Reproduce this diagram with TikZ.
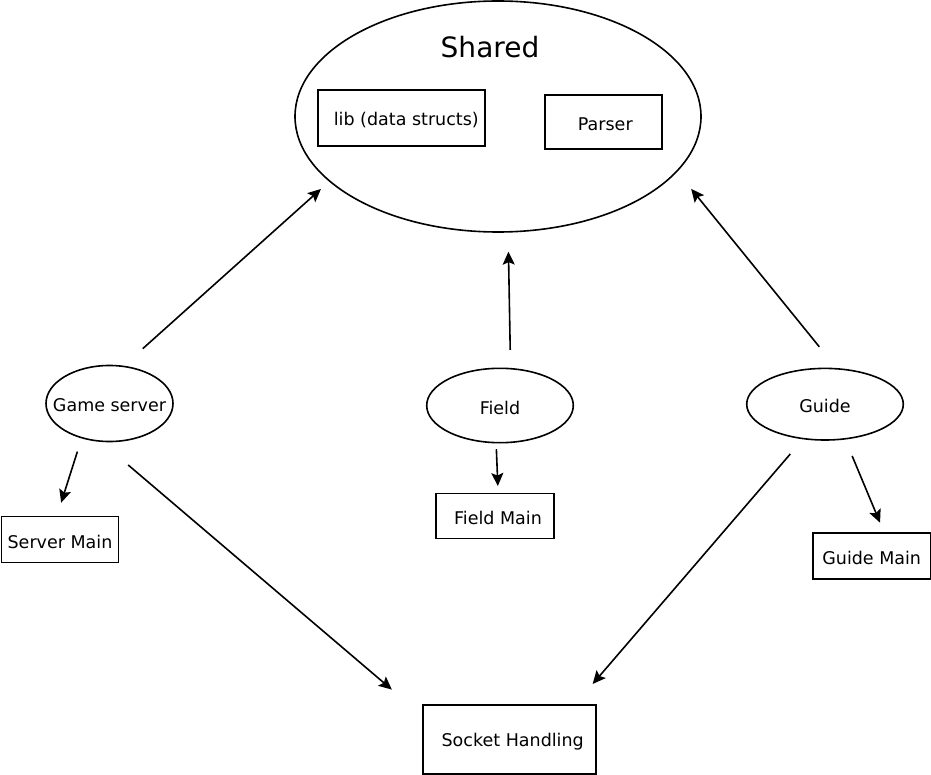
\documentclass[tikz,border=0pt]{standalone}
\usepackage{fontspec}
\setmainfont{DejaVu Sans}
\usetikzlibrary{shapes.geometric,arrows.meta}

\tikzset{
  blob/.style={draw, ellipse, line width=1.6pt, inner sep=0pt, outer sep=0pt},
  box/.style={draw, rectangle, line width=1.7pt, inner sep=0pt, outer sep=0pt},
  lbl/.style={font=\fontsize{17.5pt}{20pt}\selectfont, yshift=-2pt},
  arr/.style={line width=1.6pt, -{Stealth[length=13pt,width=12pt,inset=2.5pt]}}
}

\begin{document}
\begin{tikzpicture}[x=1pt,y=-1pt]
    \useasboundingbox (0,0) rectangle (931,775);

    % shared code
    \node[blob, minimum width=406pt, minimum height=231pt] (shared) at (498,116.5) {};
    \node[font=\fontsize{28pt}{32pt}\selectfont] (title) at (490,47.5) {Shared};
    \node[box, minimum width=167pt, minimum height=56pt, label={[lbl,xshift=5pt]center:lib (data structs)}] (lib) at (401.3,117.8) {};
    \node[box, minimum width=117pt, minimum height=54pt, label={[lbl,xshift=2pt]center:Parser}] (parser) at (603.3,122) {};

    % programs
    \node[blob, minimum width=127pt, minimum height=76pt, label={[lbl]center:Game server}] (gs) at (109.5,403.5) {};
    \node[blob, minimum width=146.6pt, minimum height=74.4pt, label={[lbl]center:Field}] (field) at (500,405.5) {};
    \node[blob, minimum width=156.6pt, minimum height=71.6pt, label={[lbl]center:Guide}] (guide) at (825,404.2) {};

    \node[box, minimum width=117pt, minimum height=46pt, label={[lbl]center:Server Main}] (sm) at (60,539.5) {};
    \node[box, minimum width=118pt, minimum height=45pt, label={[lbl,xshift=3pt]center:Field Main}] (fm) at (495,516) {};
    \node[box, minimum width=118pt, minimum height=46pt, label={[lbl]center:Guide Main}] (gm) at (871.7,556.3) {};
    \node[box, minimum width=173pt, minimum height=69pt, label={[lbl,xshift=3pt]center:Socket Handling}] (sh) at (509.7,739.5) {};

    \path[arr]
        (gs.70) edge [shorten <=26.5pt, shorten >=11.8pt] (shared.201)
        (field.74) edge [shorten <=18.7pt, shorten >=19.8pt] (shared.275)
        (guide.71.5) edge [shorten <=28.4pt, shorten >=22.8pt] (shared.343.25)
        (gs.231.5) edge [shorten <=14.6pt, shorten >=14.5pt] (sm.98.6)
        (field.264.6) edge [shorten <=6.6pt, shorten >=7.5pt] (fm.82.7)
        (guide.300.8) edge [shorten <=18.6pt, shorten >=11.45pt] (gm.61.3)
        (gs.256.25) edge [shorten <=36.8pt, shorten >=41.2pt] (sh.165.3)
        (guide.238.55) edge [shorten <=20.2pt, shorten >=27.7pt] (sh.28);
\end{tikzpicture}
\end{document}
